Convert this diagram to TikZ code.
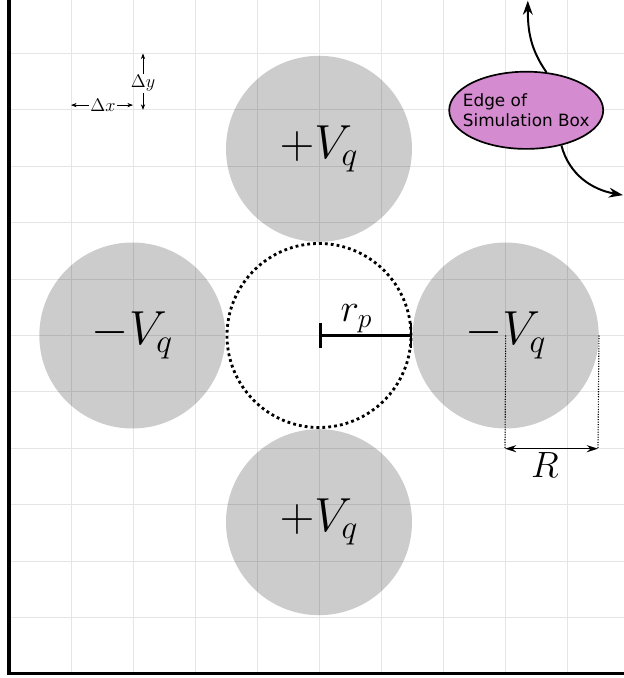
\RequirePackage{fix-cm}
\documentclass[tikz,border=0pt]{standalone}
\usepackage{fontspec}
\usepackage{xcolor}
\usepackage{tikz}
\usetikzlibrary{shapes.geometric, arrows.meta, positioning}

\newfontfamily\notefont{DejaVu Sans}
\definecolor{edgefill}{RGB}{213,139,208}

\begin{document}
\begin{tikzpicture}[
    rod/.style={circle, fill=black, fill opacity=0.2, text opacity=1, minimum size=4.65cm, inner sep=0pt, font=\fontsize{34}{40}\selectfont},
    pore/.style={circle, draw, line width=2pt, dash pattern=on 2pt off 2.2pt, minimum size=4.6cm, inner sep=0pt},
    gridline/.style={draw=black!10, line width=0.6pt},
    simbox/.style={draw=black, line width=2.2pt},
    rbar/.style={line width=2pt, {Bar[width=0.62cm]}-{Bar[width=0.62cm]}},
    guide/.style={densely dotted, line width=0.8pt},
    dimline/.style={line width=1pt, {Stealth[length=8pt,width=5pt]}-{Stealth[length=8pt,width=5pt]}},
    cellarrow/.style={line width=0.5pt, -{Stealth[length=4pt,width=3pt]}},
    pointer/.style={line width=1.4pt, -{Stealth[length=10pt,width=7pt]}},
    edgenote/.style={ellipse, draw, line width=1.2pt, fill=edgefill, minimum width=3.85cm, minimum height=1.93cm, inner xsep=-0.23cm, inner ysep=0pt, align=left, font=\notefont\fontsize{12}{14.6}\selectfont}
]

% Frame of the crop
\useasboundingbox (-7.975,-8.5625) rectangle (7.625,8.3875);
\fill[white] (-7.975,-8.5625) rectangle (7.625,8.3875);

% Simulation grid and box (only the left and bottom edges are in view)
\draw[gridline, xstep=1.55, ystep=1.41] (-7.75,-8.46) grid (7.62,8.38);
\draw[simbox] (-7.75,8.3875) |- (7.625,-8.46);

% Pore and rods
\node[pore] (pore) at (0,0) {};
\node[rod, above=0pt of pore] (vtop) {$+V_q$};
\node[rod, below=0pt of pore] (vbot) {$+V_q$};
\node[rod, left=0pt of pore] (vleft) {$-V_q$};
\node[rod, right=0pt of pore] (vright) {$-V_q$};

% Pore radius
\draw[rbar] (pore.center) -- (pore.east) node[pos=0.4, above, inner sep=1pt, font=\fontsize{28}{32}\selectfont] {$r_p$};

% Rod radius
\coordinate (rl) at (4.65,-2.83);
\coordinate (rr) at (6.975,-2.83);
\draw[guide] (vright.center) -- (rl);
\draw[guide] (vright.east) -- (rr);
\draw[dimline] (rl) -- (rr) node[pos=0.43, below, inner sep=2pt, font=\fontsize{26}{30}\selectfont] {$R$};

% Cell size
\node[inner sep=1pt, font=\fontsize{13}{15}\selectfont] (dx) at (-5.4,5.76) {$\Delta x$};
\coordinate (dxl) at (-6.2,5.76);
\coordinate (dxr) at (-4.65,5.76);
\draw[cellarrow] (dx) -- (dxl);
\draw[cellarrow] (dx) -- (dxr);

\node[inner sep=1pt, font=\fontsize{13}{15}\selectfont] (dy) at (-4.4,6.3) {$\Delta y$};
\coordinate (dyt) at (-4.4,7.05);
\coordinate (dyb) at (-4.4,5.64);
\draw[cellarrow] (dy) -- (dyt);
\draw[cellarrow] (dy) -- (dyb);

% Simulation box note
\node[edgenote] (edge) at (5.18,5.63) {Edge of\\Simulation Box};
\coordinate (topedge) at (5.22,8.37);
\coordinate (rightedge) at (7.6,3.51);
\draw[pointer] (edge.62) to[out=125, in=-90] (topedge);
\draw[pointer] (edge.-45) to[out=-75, in=170] (rightedge);

\end{tikzpicture}
\end{document}
